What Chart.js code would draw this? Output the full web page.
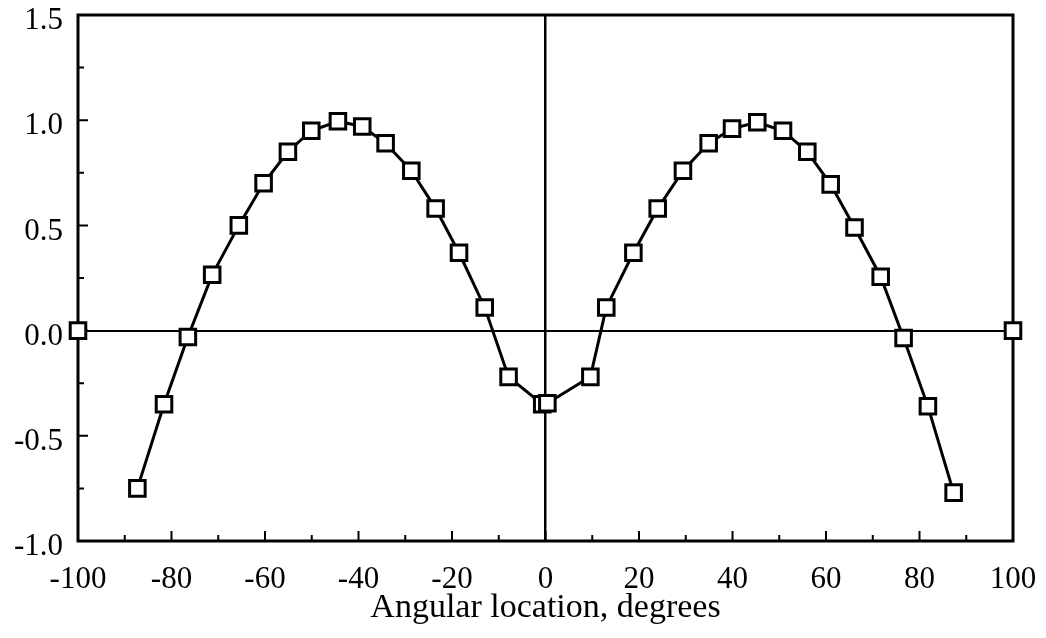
<!DOCTYPE html>
<html>
<head>
<meta charset="utf-8">
<script src="https://cdn.jsdelivr.net/npm/chart.js@4/dist/chart.umd.min.js"></script>
<style>
  html, body { margin: 0; padding: 0; background: #fff; }
  #wrap { width: 1046px; height: 638px; }
</style>
</head>
<body>
<div id="wrap"><canvas id="chart" width="1046" height="638"></canvas></div>
<script>
// angular location (deg) and normalised value
const angles = [-87.3, -81.6, -76.5, -71.3, -65.6, -60.3, -55.1, -50.1, -44.4, -39.2, -34.2,
  -28.7, -23.5, -18.5, -13.0, -7.9, -0.7, 0.4, 9.6, 13.0, 18.8, 24.0, 29.4, 34.9, 39.9, 45.3,
  50.8, 56.0, 61.0, 66.1, 71.7, 76.6, 81.8, 87.3];
const values = [-0.75, -0.35, -0.03, 0.265, 0.50, 0.70, 0.85, 0.95, 0.995, 0.97, 0.89,
  0.76, 0.58, 0.37, 0.11, -0.22, -0.35, -0.345, -0.22, 0.11, 0.37, 0.58, 0.76, 0.89, 0.96, 0.99,
  0.95, 0.85, 0.695, 0.49, 0.256, -0.035, -0.36, -0.77];
// the two lone points sitting on the frame
const endAngles = [-100, 100];
const endValues = [0.0, 0.0];

const xMinorTicks = [-90, -70, -50, -30, -10, 10, 30, 50, 70, 90];
const xMajorTicks = [-80, -60, -40, -20, 0, 20, 40, 60, 80];
const yMinorTicks = [-0.75, -0.25, 0.25, 0.75, 1.25];
const yMajorTicks = [-0.5, 0, 0.5, 1.0];

const curve = angles.map((a, i) => ({ x: a, y: values[i] }));
const ends = endAngles.map((a, i) => ({ x: a, y: endValues[i] }));
const serif = "'Liberation Serif', 'Times New Roman', serif";

const markerStyle = {
  borderColor: '#000',
  borderWidth: 3,
  pointStyle: 'rect',
  pointRadius: 11,
  pointBorderWidth: 3,
  pointBorderColor: '#000',
  pointBackgroundColor: '#fff',
  clip: false
};

// frame + inward tick marks
const framePlugin = {
  id: 'frame',
  beforeDatasetsDraw(chart) {
    const { ctx, chartArea: a, scales } = chart;
    ctx.save();
    ctx.strokeStyle = '#000';
    ctx.lineWidth = 3;
    ctx.strokeRect(a.left, a.top, a.right - a.left, a.bottom - a.top);
    ctx.lineWidth = 2;
    ctx.beginPath();
    xMajorTicks.forEach(v => {
      const px = scales.x.getPixelForValue(v);
      ctx.moveTo(px, a.bottom); ctx.lineTo(px, a.bottom - 10);
    });
    xMinorTicks.forEach(v => {
      const px = scales.x.getPixelForValue(v);
      ctx.moveTo(px, a.bottom); ctx.lineTo(px, a.bottom - 6);
    });
    yMajorTicks.forEach(v => {
      const py = scales.y.getPixelForValue(v);
      ctx.moveTo(a.left, py); ctx.lineTo(a.left + 10, py);
    });
    yMinorTicks.forEach(v => {
      const py = scales.y.getPixelForValue(v);
      ctx.moveTo(a.left, py); ctx.lineTo(a.left + 6, py);
    });
    ctx.stroke();
    ctx.restore();
  }
};

new Chart(document.getElementById('chart'), {
  type: 'scatter',
  data: {
    datasets: [
      Object.assign({ data: curve, showLine: true }, markerStyle),
      Object.assign({ data: ends, showLine: false }, markerStyle)
    ]
  },
  options: {
    responsive: false,
    animation: false,
    events: [],
    layout: { padding: { top: 15, right: 33, left: 0, bottom: 0 } },
    plugins: { legend: { display: false }, tooltip: { enabled: false } },
    scales: {
      x: {
        type: 'linear',
        min: -100, max: 100,
        border: { display: false },
        grid: {
          drawTicks: false,
          color: c => c.tick && c.tick.value === 0 ? '#000' : 'rgba(0,0,0,0)',
          lineWidth: 2.5
        },
        ticks: {
          stepSize: 20,
          padding: 20,
          color: '#000',
          font: { family: serif, size: 31 }
        },
        title: {
          display: true,
          text: 'Angular location, degrees',
          color: '#000',
          font: { family: serif, size: 34 },
          padding: { top: 0, bottom: 10 }
        },
        afterFit: s => {
          s.height = 97;
          s.paddingLeft = 0;
          s.paddingRight = 0;
        }
      },
      y: {
        min: -1.0, max: 1.5,
        border: { display: false },
        grid: {
          drawTicks: false,
          color: c => c.tick && c.tick.value === 0 ? '#000' : 'rgba(0,0,0,0)',
          lineWidth: 2
        },
        ticks: {
          stepSize: 0.5,
          padding: 15,
          labelOffset: 6,
          color: '#000',
          font: { family: serif, size: 31 },
          callback: v => v.toFixed(1)
        },
        afterFit: s => {
          s.width = 78;
          s.paddingTop = 0;
          s.paddingBottom = 0;
        }
      }
    }
  },
  plugins: [framePlugin]
});
</script>
</body>
</html>
